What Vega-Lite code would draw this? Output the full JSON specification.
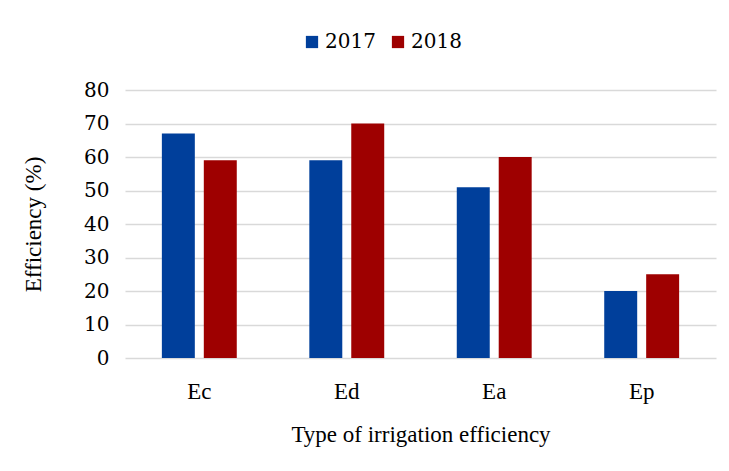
{
  "$schema": "https://vega.github.io/schema/vega-lite/v6.json",
  "width": 591,
  "height": 268,
  "autosize": {"type": "none"},
  "padding": {"left": 125, "top": 90, "right": 13, "bottom": 113},
  "background": "white",
  "config": {
    "view": {"stroke": null},
    "font": "Liberation Serif"
  },
  "data": {
    "values": [
      {"type": "Ec", "year": "2017", "value": 67},
      {"type": "Ec", "year": "2018", "value": 59},
      {"type": "Ed", "year": "2017", "value": 59},
      {"type": "Ed", "year": "2018", "value": 70},
      {"type": "Ea", "year": "2017", "value": 51},
      {"type": "Ea", "year": "2018", "value": 60},
      {"type": "Ep", "year": "2017", "value": 20},
      {"type": "Ep", "year": "2018", "value": 25}
    ]
  },
  "mark": {"type": "bar"},
  "encoding": {
    "x": {
      "field": "type",
      "type": "nominal",
      "sort": ["Ec", "Ed", "Ea", "Ep"],
      "scale": {"paddingInner": 0.492, "paddingOuter": 0.25},
      "axis": {
        "title": "Type of irrigation efficiency",
        "labelAngle": 0,
        "labelFont": "Liberation Serif",
        "labelFontSize": 23,
        "labelColor": "#000000",
        "labelPadding": 22,
        "ticks": false,
        "domain": false,
        "titleFont": "Liberation Serif",
        "titleFontSize": 23,
        "titleFontWeight": "normal",
        "titleColor": "#000000",
        "titlePadding": 20
      }
    },
    "xOffset": {
      "field": "year",
      "type": "nominal",
      "scale": {"paddingInner": 0.214}
    },
    "y": {
      "field": "value",
      "type": "quantitative",
      "scale": {"domain": [0, 80]},
      "axis": {
        "title": "Efficiency (%)",
        "values": [0, 10, 20, 30, 40, 50, 60, 70, 80],
        "labelFont": "DejaVu Serif",
        "labelFontSize": 20,
        "labelColor": "#000000",
        "labelPadding": 16,
        "ticks": false,
        "domain": false,
        "grid": true,
        "gridColor": "#d9d9d9",
        "gridWidth": 1.5,
        "titleFont": "Liberation Serif",
        "titleFontSize": 23,
        "titleFontWeight": "normal",
        "titleColor": "#000000",
        "titlePadding": 38
      }
    },
    "color": {
      "field": "year",
      "type": "nominal",
      "scale": {"domain": ["2017", "2018"], "range": ["#003f9b", "#9e0000"]},
      "legend": {
        "title": null,
        "orient": "none",
        "direction": "horizontal",
        "legendX": 177,
        "legendY": -58,
        "symbolType": "square",
        "symbolSize": 150,
        "symbolStrokeWidth": 0,
        "labelFont": "DejaVu Serif",
        "labelFontSize": 20,
        "labelColor": "#000000",
        "labelOffset": 3,
        "columnPadding": 12
      }
    }
  }
}
